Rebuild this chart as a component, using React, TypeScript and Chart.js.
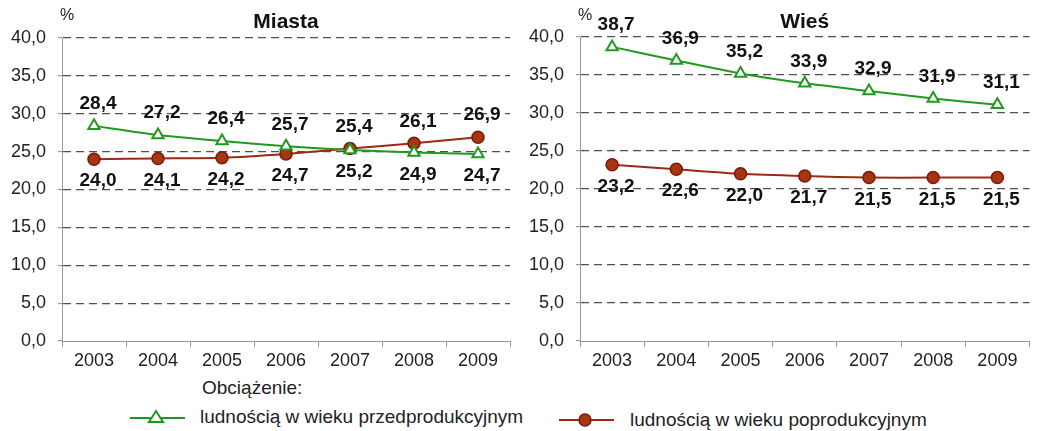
import React, { useEffect, useRef } from "react";
import { Chart, registerables } from "chart.js";
Chart.register(...registerables);

const years = ["2003", "2004", "2005", "2006", "2007", "2008", "2009"];
const miastaPrzed = [28.4, 27.2, 26.4, 25.7, 25.2, 24.9, 24.7];
const miastaPo = [24.0, 24.1, 24.2, 24.7, 25.4, 26.1, 26.9];
const wiesPrzed = [38.7, 36.9, 35.2, 33.9, 32.9, 31.9, 31.1];
const wiesPo = [23.2, 22.6, 22.0, 21.7, 21.5, 21.5, 21.5];
const yMin = 0;
const yMax = 40;
const yStep = 5;
const legendTitle = "Obciążenie:";
const seriesNames = ["ludnością w wieku przedprodukcyjnym", "ludnością w wieku poprodukcyjnym"];

const FONT = '"Liberation Sans", Arial, sans-serif';
const GREEN = "#1f9a1f";
const RED_LINE = "#9a2a18";
const RED_FILL = "#a83512";
const RED_BORDER = "#7a1a0a";

const fmt = (v: number) => v.toFixed(1).replace(".", ",");

type PanelProps = {
  title: string;
  przed: number[];
  po: number[];
  left: number;
  width: number;
  axisWidth: number;
  padRight: number;
  padTop: number;
};

function Panel({ title, przed, po, left, width, axisWidth, padRight, padTop }: PanelProps) {
  const ref = useRef<HTMLCanvasElement | null>(null);
  useEffect(() => {
    if (!ref.current) return;
    const labelPlugin = {
      id: "valueLabels",
      afterDatasetsDraw(chart: any) {
        const ctx = chart.ctx;
        ctx.save();
        ctx.font = `bold 19px ${FONT}`;
        ctx.fillStyle = "#111";
        ctx.textAlign = "center";
        ctx.textBaseline = "middle";
        chart.data.datasets.forEach((ds: any, di: number) => {
          const other = chart.data.datasets[1 - di].data as number[];
          const meta = chart.getDatasetMeta(di);
          meta.data.forEach((pt: any, i: number) => {
            const v = ds.data[i] as number;
            const above = v >= other[i];
            const y = above ? pt.y - 22 : pt.y + 22;
            ctx.fillText(fmt(v), pt.x + 4, y);
          });
        });
        ctx.restore();
      },
      afterDraw(chart: any) {
        const ctx = chart.ctx;
        const a = chart.chartArea;
        ctx.save();
        ctx.fillStyle = "#111";
        ctx.textAlign = "center";
        ctx.textBaseline = "middle";
        ctx.font = `bold 21px ${FONT}`;
        ctx.fillText(title, (a.left + a.right) / 2, 22);
        ctx.font = `16px ${FONT}`;
        ctx.fillStyle = "#222";
        ctx.fillText("%", a.left + 5, 16);
        ctx.restore();
      },
    };
    const chart = new Chart(ref.current, {
      type: "line",
      data: {
        labels: years,
        datasets: [
          {
            label: seriesNames[0],
            data: przed,
            borderColor: GREEN,
            borderWidth: 2,
            backgroundColor: "#ffffff",
            pointStyle: "triangle",
            pointRadius: 6.5,
            pointBorderColor: GREEN,
            pointBackgroundColor: "#ffffff",
            pointBorderWidth: 2,
            tension: 0.2,
          },
          {
            label: seriesNames[1],
            data: po,
            borderColor: RED_LINE,
            borderWidth: 2,
            backgroundColor: RED_FILL,
            pointStyle: "circle",
            pointRadius: 6,
            pointBorderColor: RED_BORDER,
            pointBackgroundColor: RED_FILL,
            pointBorderWidth: 1.5,
            tension: 0.2,
          },
        ],
      },
      options: {
        responsive: false,
        animation: false,
        layout: { padding: { top: padTop, right: padRight, left: 0, bottom: 0 } },
        plugins: { legend: { display: false }, tooltip: { enabled: false } },
        scales: {
          x: {
            offset: true,
            grid: {
              display: true,
              offset: true,
              drawOnChartArea: false,
              drawTicks: true,
              tickLength: 6,
              tickColor: "#999",
            },
            border: { color: "#999", width: 1 },
            ticks: { color: "#222", font: { family: FONT, size: 18 }, padding: 3, maxRotation: 0 },
            afterFit: (s: any) => {
              s.height = 29;
            },
          },
          y: {
            min: yMin,
            max: yMax,
            ticks: {
              stepSize: yStep,
              color: "#222",
              font: { family: FONT, size: 18 },
              padding: 12,
              callback: (v: any) => fmt(Number(v)),
            },
            grid: {
              color: (c: any) => (c.tick && c.tick.value === 0 ? "rgba(0,0,0,0)" : "#505050"),
              lineWidth: 1.2,
              drawTicks: true,
              tickLength: 4,
              tickColor: "#999",
              tickBorderDash: [],
            },
            border: { color: "#999", width: 1, dash: [8, 5] },
            afterFit: (s: any) => {
              s.width = axisWidth;
            },
          },
        },
      },
      plugins: [labelPlugin],
    } as any);
    return () => chart.destroy();
  }, []);
  return (
    <canvas
      ref={ref}
      width={width}
      height={370}
      style={{ position: "absolute", left, top: 0, width, height: 370 }}
    />
  );
}

export default function App() {
  useEffect(() => {
    document.body.style.margin = "0";
    document.body.style.background = "#fff";
  }, []);
  const textStyle: React.CSSProperties = {
    position: "absolute",
    fontFamily: FONT,
    fontSize: 19,
    color: "#222",
    whiteSpace: "nowrap",
    lineHeight: "20px",
  };
  return (
    <div style={{ position: "relative", width: 1038, height: 431, background: "#fff", overflow: "hidden" }}>
      <Panel title="Miasta" przed={miastaPrzed} po={miastaPo} left={0} width={520} axisWidth={62} padRight={10} padTop={38} />
      <Panel title="Wieś" przed={wiesPrzed} po={wiesPo} left={520} width={518} axisWidth={60} padRight={0} padTop={37} />
      <div style={{ ...textStyle, left: 202, top: 378 }}>{legendTitle}</div>
      <svg style={{ position: "absolute", left: 128, top: 408 }} width={60} height={20}>
        <line x1={2} y1={10} x2={57} y2={10} stroke={GREEN} strokeWidth={2} />
        <polygon points="28,3 35,14 21,14" fill="#fff" stroke={GREEN} strokeWidth={2} />
      </svg>
      <div style={{ ...textStyle, left: 200, top: 407 }}>{seriesNames[0]}</div>
      <svg style={{ position: "absolute", left: 557, top: 410 }} width={60} height={20}>
        <line x1={2} y1={10} x2={57} y2={10} stroke={RED_LINE} strokeWidth={2} />
        <circle cx={28} cy={10} r={6} fill={RED_FILL} stroke={RED_BORDER} strokeWidth={1.5} />
      </svg>
      <div style={{ ...textStyle, left: 630, top: 410 }}>{seriesNames[1]}</div>
    </div>
  );
}
